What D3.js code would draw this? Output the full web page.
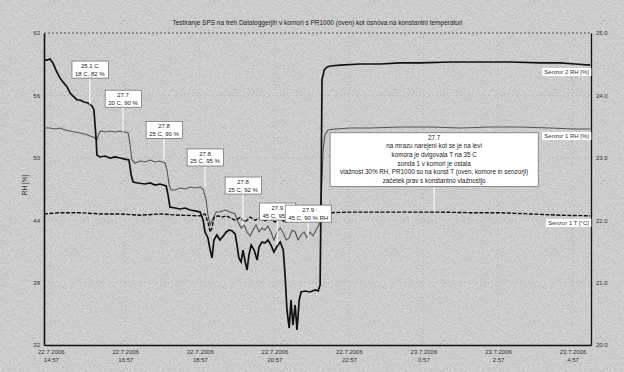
<!DOCTYPE html>
<html>
<head>
<meta charset="utf-8">
<script src="https://cdn.jsdelivr.net/npm/d3@7"></script>
<style>
  body { margin: 0; background: #d6d6d6; }
  svg { display: block; font-family: "Liberation Sans", Arial, sans-serif; }
</style>
</head>
<body>
<div class="chart"></div>
<script>
// chart data
const chartTitle = "Testiranje SPS na treh Dataloggerjih v komori s PR1000 (oven) kot osnova na konstantni temperaturi";
const startTime = new Date(2006, 6, 22, 14, 46);
const xTickTimes = [
  new Date(2006, 6, 22, 14, 57), new Date(2006, 6, 22, 16, 57), new Date(2006, 6, 22, 18, 57),
  new Date(2006, 6, 22, 20, 57), new Date(2006, 6, 22, 22, 57), new Date(2006, 6, 23, 0, 57),
  new Date(2006, 6, 23, 2, 57), new Date(2006, 6, 23, 4, 57)
];
const rhTicks = [32, 38, 44, 50, 56, 62];
const tTicks = [20, 21, 22, 23, 24, 25];
const seriesNames = ["Senzor 2 RH [%]", "Senzor 1 RH [%]", "Senzor 1 T [°C]"];

// [hours from start, RH %]
const senzor2RH = [[0,59.4],[0.08,59.4],[0.16,59.5],[0.24,59.12],[0.32,58.44],[0.43,57.67],[0.51,57.29],[0.62,56.81],[0.70,56.23],[0.78,55.94],
  [0.89,55.56],[0.97,55.56],[1.07,55.37],[1.18,55.27],[1.29,54.98],[1.34,54.6],[1.40,51.71],[1.42,50.27],[1.50,50.08],[1.64,50.17],
  [1.77,49.98],[1.91,50.08],[2.04,49.98],[2.17,49.88],[2.28,49.79],[2.34,48.35],[2.39,47.67],[2.52,47.58],[2.71,47.48],[2.85,47.58],
  [2.98,47.38],[3.11,47.48],[3.28,47.29],[3.33,46.42],[3.38,45.27],[3.52,45.17],[3.65,45.08],[3.79,45.17],[3.92,44.98],[4.08,44.88],
  [4.19,44.79],[4.27,44.02],[4.32,42.87],[4.40,42.29],[4.46,41.13],[4.51,40.37],[4.56,42.1],[4.64,42.58],[4.72,42.1],[4.81,42.48],
  [4.89,42.87],[4.97,43.06],[5.05,42.96],[5.13,42.67],[5.18,41.62],[5.23,40.37],[5.29,39.98],[5.34,41.13],[5.40,39.98],[5.45,39.21],
  [5.50,40.65],[5.56,41.62],[5.64,41.13],[5.72,40.17],[5.77,41.42],[5.85,41.9],[5.93,41.81],[6.01,42.1],[6.09,41.62],[6.17,40.94],
  [6.26,41.52],[6.34,41.9],[6.42,41.13],[6.47,38.73],[6.52,35.37],[6.58,33.63],[6.63,36.33],[6.68,33.92],[6.74,35.85],[6.79,33.44],
  [6.85,36.33],[6.90,37.1],[7.01,37.19],[7.14,37.1],[7.28,37.29],[7.36,37.19],[7.41,37.77],[7.44,47.87],[7.46,57.48],[7.52,58.44],
  [7.60,58.73],[7.68,58.83],[7.95,58.92],[8.48,59.02],[9.02,59.02],[9.56,59.12],[10.09,59.12],[10.90,59.21],[11.70,59.21],[12.51,59.21],
  [13.32,59.12],[13.85,59.12],[14.26,59.02],[14.66,58.92]];

const senzor1RH = [[0,52.87],[0.16,52.87],[0.30,52.77],[0.43,52.87],[0.56,52.67],[0.70,52.58],[0.83,52.48],[0.97,52.38],[1.10,52.29],[1.23,52.1],
  [1.32,52.0],[1.37,51.9],[1.42,51.71],[1.48,52.38],[1.53,52.58],[1.64,52.48],[1.77,52.58],[1.91,52.48],[2.04,52.58],[2.17,52.48],
  [2.26,52.38],[2.31,51.23],[2.36,49.79],[2.44,49.5],[2.58,49.69],[2.71,49.6],[2.85,49.79],[2.98,49.6],[3.11,49.69],[3.25,49.5],
  [3.30,48.83],[3.36,47.38],[3.41,46.9],[3.52,46.9],[3.65,47.1],[3.79,47.0],[3.92,47.19],[4.05,47.1],[4.19,47.19],[4.27,47.0],
  [4.35,45.94],[4.40,44.5],[4.46,43.54],[4.54,44.21],[4.62,44.79],[4.72,44.79],[4.86,44.98],[4.99,44.79],[5.13,44.6],[5.21,43.83],
  [5.29,43.25],[5.37,43.54],[5.45,42.87],[5.53,42.48],[5.61,43.06],[5.69,43.54],[5.77,42.87],[5.85,43.25],[5.93,43.06],[6.01,43.44],
  [6.09,42.87],[6.17,42.1],[6.26,42.87],[6.34,43.25],[6.42,42.77],[6.50,42.1],[6.58,42.29],[6.66,43.06],[6.74,42.87],[6.82,42.1],
  [6.90,42.58],[6.98,42.87],[7.06,42.29],[7.14,42.87],[7.22,42.48],[7.30,43.06],[7.38,43.54],[7.44,45.94],[7.49,50.75],[7.54,52.19],
  [7.62,52.67],[7.81,52.77],[8.21,52.87],[8.75,52.87],[9.56,52.96],[10.36,52.96],[11.17,52.87],[11.97,52.96],[12.78,52.96],[13.58,52.87],
  [14.26,52.77],[14.66,52.77]];

// [hours from start, T °C] (right axis)
const senzor1T = [[0,22.1],[0.43,22.12],[0.97,22.12],[1.50,22.1],[2.04,22.1],[2.58,22.08],[3.11,22.1],[3.65,22.08],[4.19,22.07],[4.32,22.1],
  [4.40,21.97],[4.46,21.81],[4.51,21.88],[4.56,22.04],[4.67,22.07],[4.78,22.05],[4.89,22.07],[4.99,22.04],[5.13,22.0],[5.26,22.04],
  [5.40,21.97],[5.53,22.05],[5.66,22.0],[5.80,22.04],[5.93,21.99],[6.07,22.02],[6.20,21.97],[6.34,22.04],[6.47,21.96],[6.60,22.02],
  [6.74,21.99],[6.87,22.02],[7.01,22.0],[7.14,22.04],[7.28,22.02],[7.41,22.07],[7.68,22.12],[8.21,22.13],[9.02,22.13],[9.83,22.13],
  [10.63,22.13],[11.44,22.12],[12.24,22.12],[13.05,22.1],[13.85,22.08],[14.66,22.07]];

// annotation boxes: [hour, box top RH, connector end RH, lines]
const notes = [
  [1.23, 59.3, 55.1, ["25.1 C", "18 C, 82 %"]],
  [2.12, 56.5, 52.5, ["27.7", "20 C, 90 %"]],
  [3.22, 53.5, 49.8, ["27.8", "25 C, 90 %"]],
  [4.32, 50.85, 47.2, ["27.8", "25 C, 95 %"]],
  [5.34, 48.15, 43.5, ["27.8", "25 C, 92 %"]],
  [6.26, 45.65, 41.6, ["27.9", "45 C, 95 %"]],
  [7.09, 45.45, 42.1, ["27.9", "45 C, 90 % RH"]],
  [10.47, 52.4, 44.9, ["27.7",
    "na mrazu narejeni kot se je na levi",
    "komora je dvigovala T na 35 C",
    "sonda 1 v komori je ostala",
    "vlažnost 30% RH, PR1000 so na konst T (oven, komore in senzorji)",
    "začetek prav s konstantno vlažnostjo"]]
];

const W = 624, H = 372;
const margin = { top: 33, right: 33, bottom: 27, left: 44 };
const innerW = W - margin.left - margin.right;
const innerH = H - margin.top - margin.bottom;

const svg = d3.select(".chart").append("svg").attr("width", W).attr("height", H);

// scanned-paper grain
const grain = svg.append("defs").append("filter").attr("id", "grain")
  .attr("x", 0).attr("y", 0).attr("width", "100%").attr("height", "100%");
grain.append("feTurbulence").attr("type", "fractalNoise").attr("baseFrequency", 1.6)
  .attr("numOctaves", 1).attr("seed", 4);
grain.append("feColorMatrix").attr("type", "matrix")
  .attr("values", "0.5 0.5 0.5 0 -0.25  0.5 0.5 0.5 0 -0.25  0.5 0.5 0.5 0 -0.25  0 0 0 0 1");
svg.append("rect").attr("width", W).attr("height", H).attr("filter", "url(#grain)").attr("opacity", 0.35);

const hourToDate = h => new Date(startTime.getTime() + h * 3600000);

const x = d3.scaleTime().domain([startTime, hourToDate(14.68)]).range([0, innerW]);
const y = d3.scaleLinear().domain([32, 62]).range([innerH, 0]);
const yT = d3.scaleLinear().domain([20, 25]).range([innerH, 0]);

const g = svg.append("g").attr("transform", `translate(${margin.left},${margin.top})`);

// title
svg.append("text").attr("x", margin.left + innerW / 2).attr("y", 25)
  .attr("text-anchor", "middle").attr("font-size", 6.5).attr("fill", "#222").text(chartTitle);

// faint grid
g.append("g").selectAll("line").data(xTickTimes).enter().append("line")
  .attr("x1", d => x(d)).attr("x2", d => x(d))
  .attr("y1", 0).attr("y2", innerH)
  .attr("stroke", "#888").attr("stroke-width", 0.6).attr("stroke-dasharray", "1,3").attr("opacity", 0.6);
g.append("g").selectAll("line").data(rhTicks).enter().append("line")
  .attr("x1", 0).attr("x2", innerW).attr("y1", d => y(d)).attr("y2", d => y(d))
  .attr("stroke", "#888").attr("stroke-width", 0.6).attr("stroke-dasharray", "1,3").attr("opacity", 0.6);

// axes
const xAxis = g.append("g").attr("transform", `translate(0,${innerH})`)
  .call(d3.axisBottom(x).tickValues(xTickTimes).tickSize(0).tickFormat(""));
xAxis.select(".domain").attr("stroke", "#111").attr("stroke-width", 1.6);
xAxis.selectAll(".tick").each(function(d) {
  const t = d3.select(this).append("text").attr("fill", "#333").attr("font-size", 6)
    .attr("text-anchor", "middle");
  t.append("tspan").attr("x", 0).attr("y", 9).text(d3.timeFormat("%-d.%-m.%Y")(d));
  t.append("tspan").attr("x", 0).attr("y", 17).text(d3.timeFormat("%-H:%M")(d));
});

const yAxis = g.append("g")
  .call(d3.axisLeft(y).tickValues(rhTicks).tickSize(0).tickPadding(4));
yAxis.select(".domain").attr("stroke", "#111").attr("stroke-width", 1.6);
yAxis.selectAll("text").attr("font-size", 6).attr("fill", "#333");

const yAxisR = g.append("g").attr("transform", `translate(${innerW},0)`)
  .call(d3.axisRight(yT).tickValues(tTicks).tickSize(0).tickPadding(5));
yAxisR.select(".domain").attr("stroke", "#111").attr("stroke-width", 1.3);
yAxisR.selectAll("text").attr("font-size", 6).attr("fill", "#333");

g.append("line").attr("x1", 0).attr("x2", innerW).attr("y1", 0).attr("y2", 0)
  .attr("stroke", "#444").attr("stroke-width", 0.8).attr("stroke-dasharray", "2,2");

svg.append("text").attr("transform", `translate(27,${margin.top + innerH / 2 - 4}) rotate(-90)`)
  .attr("text-anchor", "middle").attr("font-size", 6.5).attr("fill", "#333").text("RH [%]");

// lines
const lineRH = d3.line().x(d => x(hourToDate(d[0]))).y(d => y(d[1]));
const lineT = d3.line().x(d => x(hourToDate(d[0]))).y(d => yT(d[1]));

g.append("path").datum(senzor1RH).attr("d", lineRH)
  .attr("fill", "none").attr("stroke", "#555").attr("stroke-width", 1.1);
g.append("path").datum(senzor1T).attr("d", lineT)
  .attr("fill", "none").attr("stroke", "#111").attr("stroke-width", 1.4).attr("stroke-dasharray", "4,1.5");
g.append("path").datum(senzor2RH).attr("d", lineRH)
  .attr("fill", "none").attr("stroke", "#111").attr("stroke-width", 1.7);

// series labels at right edge
const lastPos = [
  y(senzor2RH[senzor2RH.length - 1][1]),
  y(senzor1RH[senzor1RH.length - 1][1]),
  yT(senzor1T[senzor1T.length - 1][1])
];
seriesNames.forEach((name, i) => {
  const lab = g.append("g").attr("transform", `translate(${innerW - 2},${lastPos[i] + 9})`);
  const txt = lab.append("text").attr("text-anchor", "end").attr("font-size", 6).attr("fill", "#333").text(name);
  const bb = txt.node().getBBox();
  lab.insert("rect", "text").attr("x", bb.x - 2).attr("y", bb.y - 1)
    .attr("width", bb.width + 4).attr("height", bb.height + 2).attr("fill", "#fff");
});

// annotation boxes
notes.forEach(n => {
  const cx = x(hourToDate(n[0]));
  const top = y(n[1]);
  const big = n[3].length > 2;
  const lineH = big ? 8.6 : 7.5;
  const box = g.append("g");
  const conn = box.append("line").attr("x1", cx).attr("x2", cx).attr("y2", y(n[2]))
    .attr("stroke", "#fff").attr("stroke-width", 1);
  const txt = box.append("text").attr("text-anchor", "middle").attr("font-size", big ? 6.3 : 6).attr("fill", "#222");
  n[3].forEach((s, i) => txt.append("tspan").attr("x", cx).attr("y", top + 7 + i * lineH).text(s));
  const bb = txt.node().getBBox();
  const padX = big ? 10 : 3;
  const bottom = top + n[3].length * lineH + 2;
  box.insert("rect", "text").attr("x", bb.x - padX).attr("y", top)
    .attr("width", bb.width + padX * 2).attr("height", bottom - top)
    .attr("fill", "#fff").attr("stroke", "#555").attr("stroke-width", 0.6);
  conn.attr("y1", bottom);
});
</script>
</body>
</html>
